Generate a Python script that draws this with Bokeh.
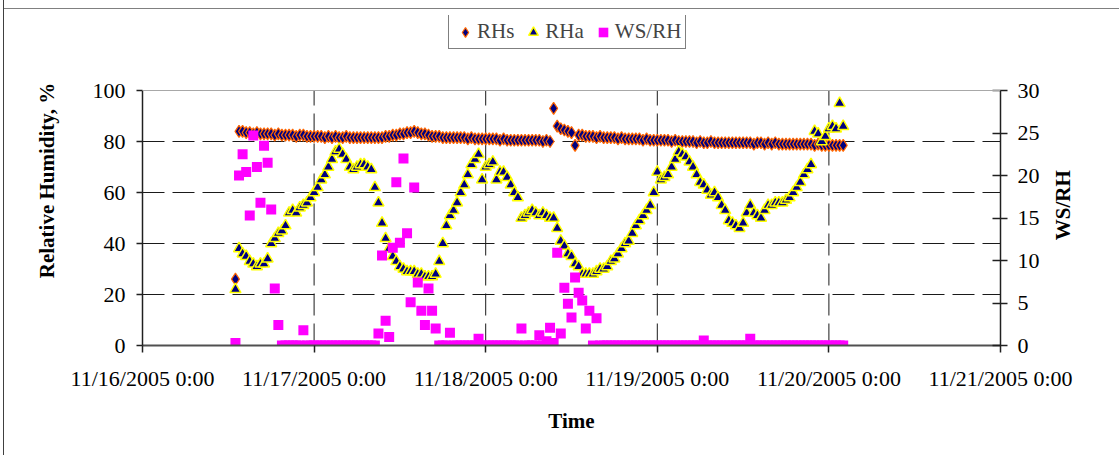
import math
from datetime import datetime
import pandas as pd
from bokeh.plotting import figure
from bokeh.layouts import row
from bokeh.models import (Range1d, LinearAxis, FixedTicker, CustomJSTickFormatter,
                          Legend, LegendItem, ColumnDataSource, Span, Label)
from bokeh.embed import file_html
from bokeh.resources import INLINE

# ---- data (30-minute samples starting 11/16/2005 13:00) ----
times = pd.date_range("2005-11-16 13:00", periods=171, freq="30min")

rh_s = [26, 84, 84, 83.5, 83.5, 83, 83.5, 83, 83, 83,
        83, 82.5, 83, 82.5, 82.5, 82.5, 82.5, 82, 82.5, 82.5,
        82, 82, 82, 82, 82, 81.5, 82, 81.5, 82, 81.5,
        81.5, 82, 81.5, 81.5, 81.5, 81.5, 81.5, 81.5, 81.5, 81.5,
        81.5, 81.5, 82, 82, 82.5, 82.5, 83, 83, 83.5, 83.5,
        84, 83.5, 83, 83, 82.5, 82, 82, 82, 81.5, 81.5,
        81.5, 81.5, 81.5, 81.5, 81.5, 81, 81.5, 81, 81, 81,
        81, 81, 81, 81, 80.5, 81, 80.5, 80.5, 80.5, 80.5,
        80.5, 80.5, 80.5, 80.5, 80.5, 80.5, 80, 80.5, 80, 93,
        86, 85, 84.5, 84, 83.5, 78.5, 82.5, 82.5, 82, 82,
        82, 81.5, 82, 81.5, 81.5, 81.5, 81.5, 81, 81.5, 81,
        81, 81, 81, 81, 80.5, 81, 80.5, 80.5, 80.5, 80.5,
        80.5, 80.5, 80, 80.5, 80, 80, 80, 80, 80, 79.5,
        80, 79.5, 79.5, 80, 79.5, 79.5, 79.5, 79.5, 79.5, 79.5,
        79.5, 79.5, 79.5, 79.5, 79.5, 79, 79.5, 79.5, 79, 79.5,
        79, 79.5, 79, 79, 79, 79, 79, 79, 79, 79,
        79, 79, 78.5, 79, 78.5, 78.5, 78.5, 78.5, 78.5, 78.5, 78.5]

rh_a = [22, 38, 36, 35, 33, 32, 31, 32, 32, 34,
        40, 42, 44, 45, 47, 52, 53, 52, 54, 55,
        56, 58, 60, 62, 65, 67, 70, 73, 76, 77,
        75, 73, 70, 69, 70, 71, 71, 70, 69, 62,
        56, 48, 42, 38, 35, 33, 31, 30, 29, 29,
        29, 28, 28, 27, 27, 27, 28, 33, 40, 47,
        51, 53, 56, 60, 63, 67, 71, 73, 75, 65,
        70, 71, 72, 65, 68, 68, 66, 63, 60, 58,
        50, 51, 52, 53, 52, 51, 52, 51, 50, 50,
        46, 41, 39, 36, 35, 32, 31, 28, 28, 28,
        28, 29, 30, 30, 31, 33, 34, 36, 38, 40,
        41, 44, 47, 49, 51, 53, 55, 60, 68, 65,
        66, 67, 70, 73, 76, 75, 74, 72, 70, 67,
        64, 63, 61, 59, 60, 58, 55, 53, 49, 48,
        47, 46, 48, 52, 55, 52, 51, 50, 53, 55,
        55, 56, 56, 56, 57, 58, 60, 62, 64, 67,
        69, 71, 84, 83, 80, 82, 85, 86, 85, 95, 86]

ws_rh = [0.3, 20, 22.5, 20.4, 15.3, 24.7, 21, 16.8, 23.5, 21.5,
         16, 6.7, 2.4, 0, 0, 0, 0, 0, 0, 1.8,
         0, 0, 0, 0, 0, 0, 0, 0, 0, 0,
         0, 0, 0, 0, 0, 0, 0, 0, 0, 0,
         1.4, 10.6, 2.9, 1.0, 11.5, 19.2, 12.1, 22, 13.2, 5.1,
         18.6, 7.4, 4.1, 2.4, 6.7, 4.1, 2.0, 0, 0, 0,
         1.5, 0, 0, 0, 0, 0, 0, 0, 0.8, 0,
         0, 0, 0, 0, 0, 0, 0, 0, 0, 0,
         2.0, 0, 0, 0, 0, 1.2, 0, 0.5, 2.1, 0.3,
         10.9, 1.4, 6.8, 4.9, 3.3, 8, 6.2, 5.3, 2.0, 4.1,
         0, 3.2, 0, 0, 0, 0, 0, 0, 0, 0,
         0, 0, 0, 0, 0, 0, 0, 0, 0, 0,
         0, 0, 0, 0, 0, 0, 0, 0, 0, 0,
         0, 0.6, 0, 0, 0, 0, 0, 0, 0, 0,
         0, 0, 0, 0, 0.8, 0, 0, 0, 0, 0,
         0, 0, 0, 0, 0, 0, 0, 0, 0, 0,
         0, 0, 0, 0, 0, 0, 0, 0, 0, 0, 0]

day_ticks = [datetime(2005, 11, d) for d in range(16, 22)]
rh_ticks = [0, 20, 40, 60, 80, 100]
ws_ticks = [0, 5, 10, 15, 20, 25, 30]

FONT = "Liberation Serif"

# ---- layout (pixels) ----
W, H = 1119, 455
F_LEFT, F_RIGHT, F_TOP, F_BOTTOM = 142, 1000, 15, 345   # frame edges
AXIS_TOP = 90                                            # where 100 % sits
TITLE_R_X = 1062                                         # centre of right title
TITLE_R_Y_FIX = 44                                       # empirical vertical correction
W_SIDE = 100                                             # overlay panel width
frame_h = F_BOTTOM - F_TOP
y_end = rh_ticks[-1] * frame_h / (F_BOTTOM - AXIS_TOP)
ws_end = ws_ticks[-1] * y_end / rh_ticks[-1]

src = ColumnDataSource(dict(t=times, rhs=rh_s, rha=rh_a, ws=ws_rh))

p = figure(width=W, height=H, x_axis_type="datetime",
           output_backend="svg", toolbar_location=None,
           x_range=Range1d(day_ticks[0], day_ticks[-1]), y_range=Range1d(0, y_end),
           min_border_left=F_LEFT, min_border_right=W - F_RIGHT,
           min_border_top=F_TOP, min_border_bottom=H - F_BOTTOM)
p.extra_y_ranges = {"ws": Range1d(0, ws_end)}
p.background_fill_color = "white"
p.border_fill_alpha = 0
p.outline_line_color = None

def ms(d):
    return (d - datetime(1970, 1, 1)).total_seconds() * 1000.0

day_ms = [ms(d) for d in day_ticks]

# x axis
xa = p.xaxis[0]
xa.ticker = FixedTicker(ticks=day_ms)
xa.formatter = CustomJSTickFormatter(code="""
const d = new Date(tick);
return (d.getUTCMonth()+1) + "/" + d.getUTCDate() + "/" + d.getUTCFullYear() + " " +
       d.getUTCHours() + ":" + String(d.getUTCMinutes()).padStart(2, "0");
""")
xa.axis_label = "Time"

# left axis
ya = p.yaxis[0]
ya.ticker = FixedTicker(ticks=rh_ticks)
ya.bounds = (rh_ticks[0], rh_ticks[-1])
ya.axis_label = "Relative Humidity, %"

# right axis (its title sits in a transparent overlay panel, reading bottom-to-top)
ra = LinearAxis(y_range_name="ws", ticker=FixedTicker(ticks=ws_ticks),
                bounds=(ws_ticks[0], ws_ticks[-1]))
p.add_layout(ra, "right")

for ax in (xa, ya, ra):
    ax.axis_label_text_font = FONT
    ax.axis_label_text_font_style = "bold"
    ax.axis_label_text_font_size = "21px"
    ax.axis_label_text_color = "black"
    ax.major_label_text_font = FONT
    ax.major_label_text_font_size = "22px"
    ax.major_label_text_color = "black"
    ax.minor_tick_line_color = None
    ax.axis_line_color = "#202020"
    ax.axis_line_width = 1.5
    ax.major_tick_line_color = "#202020"
    ax.major_tick_line_width = 1.5

xa.axis_line_color = "#505050"
xa.axis_line_width = 2
xa.major_tick_in = 0
xa.major_tick_out = 7
xa.major_label_standoff = 13
xa.axis_label_standoff = 15

ya.major_tick_in = 0
ya.major_tick_out = 6
ya.major_label_standoff = 11
ya.axis_label_standoff = 31

ra.major_tick_in = 8
ra.major_tick_out = 7
ra.major_label_standoff = 10

# grids: horizontal dashed lines from the grid, vertical ones bounded to 0..100
p.xgrid.visible = False
p.ygrid.ticker = FixedTicker(ticks=rh_ticks[1:-1])
g = p.ygrid[0]
g.grid_line_color = "#1a1a1a"
g.grid_line_dash = "22 8"
g.grid_line_width = 1

inner_days = day_ticks[1:-1]
p.segment(x0=inner_days, x1=inner_days,
          y0=[rh_ticks[0]] * len(inner_days), y1=[rh_ticks[-1]] * len(inner_days),
          line_color="#1a1a1a", line_dash="22 8", line_width=1, level="underlay")

# plot-area top edge (light gray) at 100 %
p.add_layout(Span(location=rh_ticks[-1], dimension="width",
                  line_color="#a8a8a8", line_width=1))

# series
r1 = p.scatter("t", "rhs", source=src, marker="diamond", size=12,
               fill_color="#000080", line_color="#FF6600", line_width=1.2)
r2 = p.scatter("t", "rha", source=src, marker="triangle", size=11,
               fill_color="#000080", line_color="#FFFF00", line_width=1.5)
r3 = p.scatter("t", "ws", source=src, marker="square", size=10, y_range_name="ws",
               fill_color="#FF00FF", line_color=None)

legend = Legend(items=[LegendItem(label="RHs", renderers=[r1]),
                       LegendItem(label="RHa", renderers=[r2]),
                       LegendItem(label="WS/RH", renderers=[r3])],
                orientation="horizontal", location=(448 - F_LEFT, F_BOTTOM - 49),
                padding=4, spacing=7, margin=0,
                glyph_width=24, glyph_height=24, label_standoff=0,
                label_text_font=FONT, label_text_font_size="21px",
                border_line_color="black", border_line_width=1,
                background_fill_color="white", background_fill_alpha=1)
p.add_layout(legend, "center")

# transparent overlay panel (pulled left over the main figure) for the secondary-axis title
side_left = W - W_SIDE
p2 = figure(width=W_SIDE, height=H, output_backend="svg", toolbar_location=None,
            x_range=Range1d(0, W_SIDE), y_range=Range1d(0, H),
            x_axis_location=None, y_axis_location=None,
            min_border=0, min_border_left=0, min_border_right=0,
            min_border_top=0, min_border_bottom=0)
p2.margin = (0, 0, 0, -W_SIDE)
p2.grid.visible = False
p2.outline_line_color = None
p2.background_fill_alpha = 0
p2.border_fill_alpha = 0
p2.add_layout(Label(x=TITLE_R_X - side_left,
                    y=H - (F_BOTTOM + AXIS_TOP) / 2 - TITLE_R_Y_FIX,
                    text="WS/RH", angle=math.pi / 2, angle_units="rad",
                    text_align="center", text_baseline="middle",
                    text_font=FONT, text_font_style="bold", text_font_size="21px",
                    text_color="black"))

layout = row(p, p2, spacing=0)
# outer chart-area border (left and top edges)
layout.styles = {"box-shadow": "inset 3px 0 0 0 #ffffff, inset 4px 0 0 0 #404040, "
                               "inset 0 8px 0 0 #ffffff, inset 0 9px 0 0 #808080",
                 "background-color": "#ffffff"}

open("out.html", "w").write(file_html(layout, INLINE))
